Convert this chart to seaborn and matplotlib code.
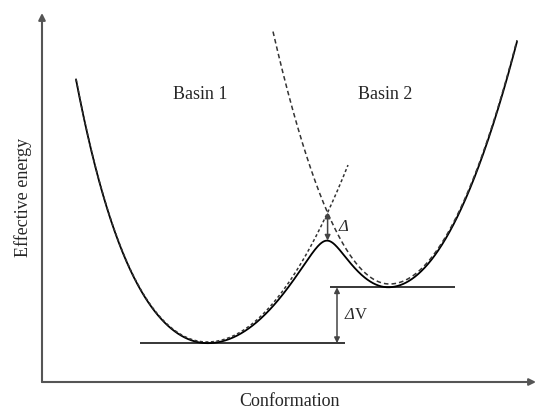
import numpy as np
import pandas as pd
import matplotlib.pyplot as plt
import seaborn as sns

# ------------------------------------------------------------
# Schematic values (arbitrary units)
# ------------------------------------------------------------
basin_names = ["Basin 1", "Basin 2"]
basin_center = [3.30, 6.95]        # conformation of each minimum
basin_min = [0.80, 1.96]           # energy of each minimum
curv_left = [0.54, 0.93]           # quadratic stiffness, left side
curv_left_quartic = [0.033, 0.0]   # extra steepening, left side
curv_right = [0.445, 0.75]         # quadratic stiffness, right side
basin_extent = [(0.68, 6.12), (4.62, 9.50)]
level_extent = [(1.96, 6.06), (5.76, 8.26)]
coupling = 0.56                    # gap between crossing and barrier top

sns.set_theme(style="white")
plt.rcParams["font.family"] = ["Liberation Serif", "DejaVu Serif"]


def basin_energy(x, i):
    d = x - basin_center[i]
    stiff = np.where(d < 0, curv_left[i] + curv_left_quartic[i] * d**2, curv_right[i])
    return basin_min[i] + stiff * d**2


# ------------------------------------------------------------
# Curves
# ------------------------------------------------------------
frames = []
for i in range(2):
    xs = np.linspace(*basin_extent[i], 400)
    frames.append(pd.DataFrame({"x": xs, "E": basin_energy(xs, i), "curve": basin_names[i]}))
diabatic = pd.concat(frames, ignore_index=True)

xs = np.linspace(basin_extent[0][0], basin_extent[1][1], 800)
v1, v2 = basin_energy(xs, 0), basin_energy(xs, 1)
lower = (v1 + v2) / 2 - np.sqrt(((v1 - v2) / 2) ** 2 + coupling**2)
effective = pd.DataFrame({"x": xs, "E": lower})

# crossing point of the two basins
grid = np.linspace(basin_center[0], basin_center[1], 2000)
x_cross = grid[np.argmin(np.abs(basin_energy(grid, 0) - basin_energy(grid, 1)))]
e_cross = basin_energy(np.array([x_cross]), 0)[0]
e_peak = effective.loc[(effective.x - x_cross).abs().idxmin(), "E"]

# bottom of each basin on the effective curve
levels = [effective.loc[effective.x < x_cross, "E"].min(),
          effective.loc[effective.x > x_cross, "E"].min()]

# ------------------------------------------------------------
# Plot
# ------------------------------------------------------------
fig = plt.figure(figsize=(5.36, 4.09), dpi=100)
ax = fig.add_axes([42 / 536, 27 / 409, 494 / 536, 369 / 409])

sns.lineplot(data=effective, x="x", y="E", color="black", lw=1.3, ax=ax,
             sort=False, estimator=None)
sns.lineplot(data=diabatic[diabatic.curve == "Basin 1"], x="x", y="E", color="#333333",
             lw=1.1, ax=ax, sort=False, estimator=None, linestyle=(0, (2, 1.6)))
sns.lineplot(data=diabatic[diabatic.curve == "Basin 2"], x="x", y="E", color="#333333",
             lw=1.1, ax=ax, sort=False, estimator=None, linestyle=(0, (3, 2)))

# minimum levels
for lvl, (x0, x1) in zip(levels, level_extent):
    ax.hlines(lvl, x0, x1, color="black", lw=1.1)

arrow = dict(arrowstyle="<|-|>", mutation_scale=8, shrinkA=0, shrinkB=0,
             color="#444444", lw=1.1)
ax.annotate("", xy=(x_cross, e_cross), xytext=(x_cross, e_peak), arrowprops=arrow)
ax.annotate("", xy=(5.90, levels[1]), xytext=(5.90, levels[0]), arrowprops=arrow)

ax.text(x_cross + 0.22, (e_cross + e_peak) / 2, "Δ", fontsize=12, fontstyle="italic",
        va="center", ha="left")
ax.text(6.06, (levels[0] + levels[1]) / 2, "Δ", fontsize=12, fontstyle="italic",
        va="center", ha="left")
ax.text(6.26, (levels[0] + levels[1]) / 2, "V", fontsize=12,
        va="center", ha="left")

for name, xc in zip(basin_names, [3.16, 6.86]):
    ax.text(xc, 5.74, name, fontsize=13, ha="center", va="center")

# axes drawn as arrows
axis_arrow = dict(arrowstyle="-|>", mutation_scale=10, shrinkA=0, shrinkB=0,
                  color="#555555", lw=1.5)
ax.annotate("", xy=(0, 7.38), xytext=(0, 0), arrowprops=axis_arrow, annotation_clip=False)
ax.annotate("", xy=(9.88, 0), xytext=(0, 0), arrowprops=axis_arrow, annotation_clip=False)

ax.set_xlim(0, 9.88)
ax.set_ylim(0, 7.38)
sns.despine(ax=ax, left=True, bottom=True)
ax.set_xticks([])
ax.set_yticks([])
ax.set_xlabel("Conformation", fontsize=13, labelpad=8)
ax.set_ylabel("Effective energy", fontsize=13, labelpad=7)

fig.savefig("out.png", dpi=100)
